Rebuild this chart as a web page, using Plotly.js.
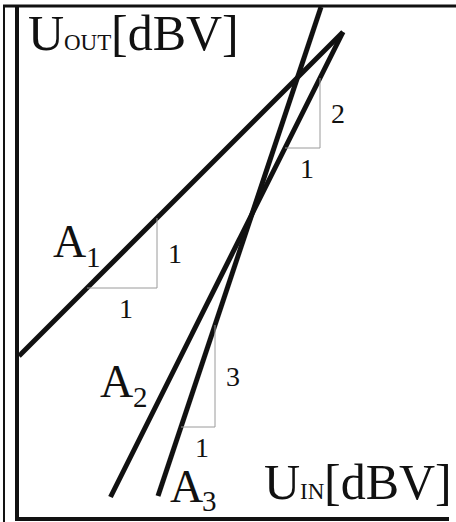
<!DOCTYPE html>
<html>
<head>
<meta charset="utf-8">
<script src="https://cdn.plot.ly/plotly-3.0.1.min.js"></script>
<style>
  html, body { margin: 0; padding: 0; background: #fff; }
  #chart { width: 456px; height: 522px; }
</style>
</head>
<body>
<div id="chart"></div>
<script>
// Amplifier output level vs input level: slopes of the fundamental (A1),
// 2nd-order (A2) and 3rd-order (A3) products on a dBV/dBV plot.
const lineNames = ['A', 'A', 'A'];
const lineSubs = ['1', '2', '3'];
const slopes = [1, 2, 3];
const xFrom = [0, 91.5, 139];
const yFrom = [161, 20, 21];
const xTo = [324, 324, 302];

// slope triangles: where each starts on its line and its horizontal run
const triStart = [68, 266, 162];
const triRun = [70, 35, 34];
const runLabels = ['1', '1', '1'];
const riseLabels = ['1', '2', '3'];

// axis names: main letter, small-caps index, unit
const yAxisParts = ['U', 'OUT', '[dBV]'];
const xAxisParts = ['U', 'IN', '[dBV]'];

const serif = 'Liberation Serif';
const ink = '#111111';
const BIG = 50, SMALL = 23, NAME = 46, NAME_SUB = 29, DIGIT = 28;

const lineAt = (i, x) => yFrom[i] + slopes[i] * (x - xFrom[i]);

const traces = [];
lineNames.forEach((name, i) => {
  traces.push({
    type: 'scatter', mode: 'lines', name: name + lineSubs[i],
    x: [xFrom[i], xTo[i]],
    y: [yFrom[i], lineAt(i, xTo[i])],
    line: { color: ink, width: 5 },
    hoverinfo: 'skip'
  });
});

const annotations = [];
const label = (x, y, text, size, xanchor) => annotations.push({
  x: x, y: y, xref: 'x', yref: 'y', xanchor: xanchor || 'center', yanchor: 'middle',
  text: text, showarrow: false, borderpad: 0,
  font: { family: serif, size: size, color: ink }
});

lineNames.forEach((name, i) => {
  const x0 = triStart[i];
  const x1 = x0 + triRun[i];
  const y0 = lineAt(i, x0);
  const y1 = lineAt(i, x1);
  traces.push({
    type: 'scatter', mode: 'lines', name: name + lineSubs[i] + ' slope',
    x: [x0, x1, x1],
    y: [y0, y0, y1],
    line: { color: '#9a9a9a', width: 1 },
    hoverinfo: 'skip'
  });
  label((x0 + x1) / 2 + 4, y0 - 20, runLabels[i], DIGIT);
  label(x1 + 18, (y0 + y1) / 2, riseLabels[i], DIGIT);
});

// line names: letter and subscript placed beside each line
const nameX = [33, 80, 150];
const nameY = [276, 136, 31];
const subDX = [41, 41, 40];
const subDY = [-16, -16, -15];
lineNames.forEach((name, i) => {
  label(nameX[i], nameY[i], name, NAME, 'left');
  label(nameX[i] + subDX[i], nameY[i] + subDY[i], lineSubs[i], NAME_SUB);
});

// axis names, sharing one baseline (centre = baseline + 0.3375 * size)
const axisName = (parts, x, baseY) => {
  const wMain = 0.722 * BIG;
  label(x, baseY + 0.3375 * BIG, parts[0], BIG, 'left');
  label(x + wMain, baseY + 0.3375 * SMALL, parts[1], SMALL, 'left');
  const wSmall = parts[1] === 'OUT' ? 2.055 * SMALL : 1.055 * SMALL;
  label(x + wMain + wSmall, baseY + 0.3375 * BIG, parts[2], BIG, 'left');
};
axisName(yAxisParts, 8, 467);
axisName(xAxisParts, 244, 18);

const axisBase = {
  showline: true, linewidth: 4, linecolor: ink,
  showgrid: false, zeroline: false, showticklabels: false,
  ticks: '', fixedrange: true
};

const layout = {
  width: 456, height: 522,
  margin: { l: 19, r: 7, t: 6, b: 5, pad: 0 },
  paper_bgcolor: '#ffffff', plot_bgcolor: '#ffffff',
  showlegend: false,
  xaxis: Object.assign({ range: [0, 430] }, axisBase),
  yaxis: Object.assign({ range: [0, 511] }, axisBase),
  annotations: annotations,
  shapes: [
    // outer frame: thin left rule and top rule
    { type: 'line', xref: 'paper', yref: 'paper',
      x0: -0.0349, x1: -0.0349, y0: 1.002, y1: -0.012,
      line: { color: ink, width: 2 } },
    { type: 'line', xref: 'paper', yref: 'paper',
      x0: -0.0372, x1: 1.02, y0: 1.0, y1: 1.0,
      line: { color: ink, width: 3 } }
  ]
};

Plotly.newPlot('chart', traces, layout, { staticPlot: true, displayModeBar: false });
</script>
</body>
</html>
